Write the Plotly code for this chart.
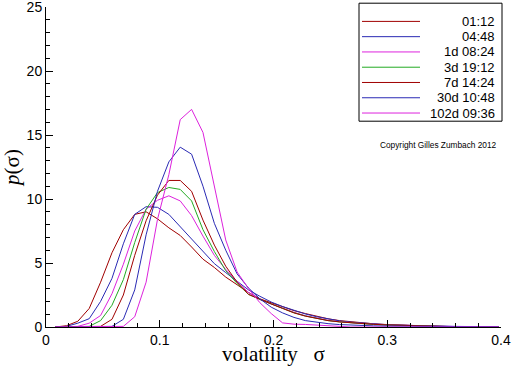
import plotly.graph_objects as go

# volatility grid (sigma)
sigma = [0.008, 0.018, 0.028, 0.038, 0.048, 0.058, 0.068, 0.078, 0.088, 0.098,
         0.108, 0.118, 0.128, 0.138, 0.148, 0.158, 0.168, 0.178, 0.188, 0.198,
         0.208, 0.218, 0.228, 0.238, 0.248, 0.258, 0.268, 0.278, 0.288, 0.298,
         0.308, 0.318, 0.328, 0.338, 0.348, 0.358, 0.368, 0.378, 0.388, 0.398]

series_names = ["01:12", "04:48", "1d 08:24", "3d 19:12", "7d 14:24", "30d 10:48", "102d 09:36"]
series_colors = ["#a00000", "#2a2ab4", "#dd22dd", "#22aa22", "#a00000", "#2a2ab4", "#dd22dd"]

p_0112 = [0.0, 0.1, 0.45, 1.45, 3.5, 5.8, 7.6, 8.8, 9.0, 8.45,
          7.75, 7.15, 6.25, 5.3, 4.65, 3.9, 3.3, 2.7, 2.2, 1.9,
          1.6, 1.28, 1.05, 0.82, 0.64, 0.5, 0.4, 0.32, 0.25, 0.2,
          0.16, 0.12, 0.09, 0.06, 0.03, 0.0, 0.0, 0.0, 0.0, 0.0]
p_0448 = [0.0, 0.05, 0.3, 0.65, 2.0, 3.8, 6.5, 8.8, 9.4, 9.35,
          8.8, 7.85, 6.9, 5.9, 4.95, 4.25, 3.6, 2.9, 2.4, 1.95,
          1.6, 1.3, 1.02, 0.8, 0.62, 0.48, 0.38, 0.3, 0.24, 0.19,
          0.15, 0.12, 0.1, 0.08, 0.06, 0.05, 0.04, 0.03, 0.02, 0.02]
p_1d = [0.0, 0.0, 0.05, 0.3, 0.9, 2.6, 4.9, 7.5, 9.2, 9.9,
        10.25, 9.85, 8.7, 7.1, 5.6, 4.5, 3.55, 2.7, 2.15, 1.8,
        1.45, 1.15, 0.88, 0.68, 0.52, 0.41, 0.33, 0.26, 0.21, 0.17,
        0.14, 0.11, 0.09, 0.07, 0.05, 0.04, 0.03, 0.02, 0.0, 0.0]
p_3d = [0.0, 0.0, 0.0, 0.05, 0.5, 1.7, 3.7, 6.6, 9.2, 10.5,
        10.9, 10.75, 9.85, 7.6, 5.9, 4.4, 3.4, 2.55, 2.15, 1.8,
        1.45, 1.12, 0.86, 0.66, 0.5, 0.4, 0.32, 0.25, 0.2, 0.16,
        0.13, 0.1, 0.08, 0.06, 0.04, 0.03, 0.02, 0.0, 0.0, 0.0]
p_7d = [0.0, 0.0, 0.0, 0.0, 0.05, 0.6, 2.5, 5.6, 8.3, 10.3,
        11.45, 11.45, 10.6, 8.35, 6.4, 4.75, 3.5, 2.55, 2.15, 1.8,
        1.45, 1.1, 0.85, 0.65, 0.5, 0.4, 0.32, 0.26, 0.21, 0.17,
        0.14, 0.11, 0.08, 0.05, 0.03, 0.02, 0.0, 0.0, 0.0, 0.0]
p_30d = [0.0, 0.0, 0.0, 0.0, 0.0, 0.05, 0.6, 2.9, 7.2, 10.6,
         12.9, 14.05, 13.5, 11.0, 8.1, 6.0, 4.15, 3.05, 2.2, 1.55,
         1.1, 0.75, 0.5, 0.36, 0.26, 0.19, 0.14, 0.11, 0.09, 0.07,
         0.06, 0.05, 0.05, 0.04, 0.04, 0.03, 0.03, 0.03, 0.02, 0.02]
p_102d = [0.0, 0.0, 0.0, 0.0, 0.0, 0.0, 0.05, 0.8, 3.5, 8.4,
          11.9, 16.2, 17.0, 15.2, 11.0, 6.8, 4.3, 3.0, 1.9, 1.05,
          0.32, 0.22, 0.2, 0.15, 0.08, 0.03, 0.0, 0.0, 0.0, 0.0,
          0.0, 0.0, 0.0, 0.0, 0.0, 0.0, 0.0, 0.0, 0.0, 0.0]

series_values = [p_0112, p_0448, p_1d, p_3d, p_7d, p_30d, p_102d]

x_tick_vals = [0, 0.1, 0.2, 0.3, 0.4]
x_tick_text = ["0", "0.1", "0.2", "0.3", "0.4"]
y_tick_vals = [0, 5, 10, 15, 20, 25]

fig = go.Figure()
for name, color, vals in zip(series_names, series_colors, series_values):
    fig.add_trace(go.Scatter(x=sigma, y=vals, mode="lines", name=name,
                             line=dict(color=color, width=1), showlegend=False,
                             hoverinfo="skip"))

tickfont = dict(family="Liberation Sans, Arial, sans-serif", size=14, color="black")
titlefont = dict(family="Liberation Serif, Times New Roman, serif", size=21, color="black")

fig.update_layout(
    template="none",
    width=512, height=366,
    margin=dict(l=46, r=11, t=7, b=39, autoexpand=False),
    plot_bgcolor="white", paper_bgcolor="white",
    showlegend=False,
    xaxis=dict(range=[0, 0.4], tickvals=x_tick_vals, ticktext=x_tick_text,
               ticks="inside", ticklen=7, tickwidth=1, tickcolor="black",
               showline=True, linecolor="black", linewidth=1, mirror=False,
               showgrid=False, zeroline=False, automargin=False, tickfont=tickfont,
               ticklabeloverflow="allow",
               minor=dict(dtick=0.02, tick0=0, ticks="inside", ticklen=4, tickwidth=1,
                          tickcolor="black", showgrid=False),
               title=dict(text="volatility   σ", font=titlefont, standoff=2)),
    yaxis=dict(range=[0, 25], tickvals=y_tick_vals,
               ticks="inside", ticklen=7, tickwidth=1, tickcolor="black",
               showline=True, linecolor="black", linewidth=1, mirror=False,
               showgrid=False, zeroline=False, automargin=False, tickfont=tickfont,
               ticklabeloverflow="allow",
               minor=dict(dtick=1, tick0=0, ticks="inside", ticklen=4, tickwidth=1,
                          tickcolor="black", showgrid=False),
               title=dict(text="<i>p</i>(σ)", font=titlefont, standoff=4)),
)

# legend box (drawn in paper coordinates)
plot_w, plot_h = 455.0, 320.0
def px_x(px):
    return (px - 46.0) / plot_w
def px_y(py):
    return (327.3 - py) / plot_h

fig.add_shape(type="rect", xref="paper", yref="paper",
              x0=px_x(359), x1=px_x(502), y0=px_y(121.5), y1=px_y(3.5),
              line=dict(color="black", width=1), fillcolor="white", layer="above")
for i, (name, color) in enumerate(zip(series_names, series_colors)):
    yy = px_y(21.7 + 15.27 * i)
    fig.add_shape(type="line", xref="paper", yref="paper",
                  x0=px_x(362), x1=px_x(420), y0=yy, y1=yy,
                  line=dict(color=color, width=1))
    fig.add_annotation(xref="paper", yref="paper", x=px_x(497), y=yy,
                       xanchor="right", yanchor="middle", showarrow=False,
                       text=name, font=dict(family="Liberation Sans, Arial, sans-serif",
                                            size=13, color="black"))

fig.add_annotation(xref="paper", yref="paper", x=px_x(499), y=px_y(145),
                   xanchor="right", yanchor="middle", showarrow=False,
                   text="Copyright Gilles Zumbach 2012",
                   font=dict(family="Liberation Sans, Arial, sans-serif", size=8.3, color="black"))

fig.write_html("out.html", config={"displayModeBar": False},
               post_script="document.body.style.margin='0';document.body.style.overflow='hidden';")
